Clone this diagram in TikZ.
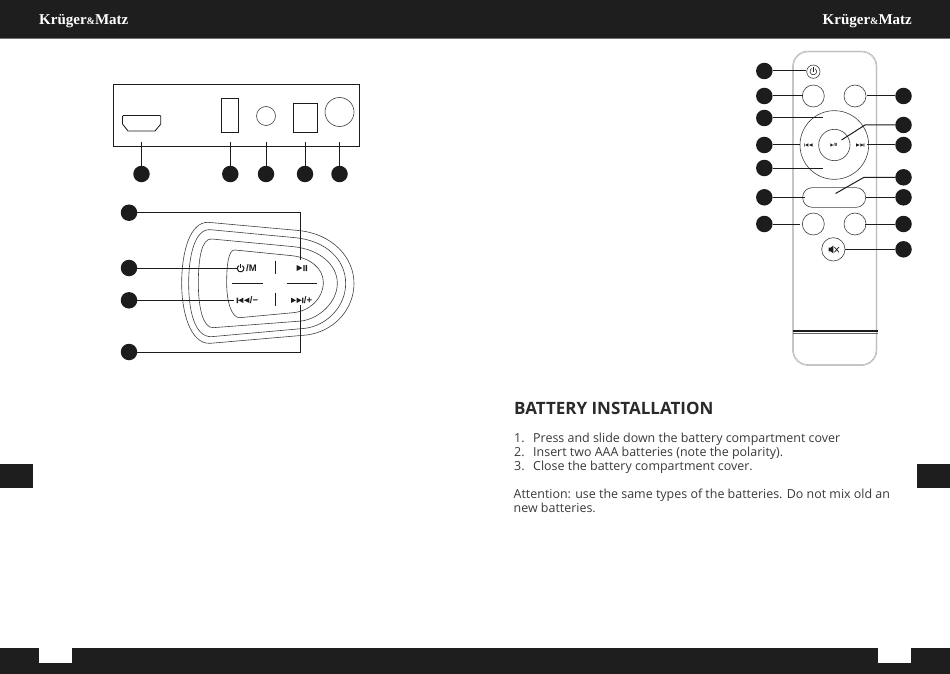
\documentclass[tikz,border=0pt]{standalone}
\usepackage{fontspec}
\setmainfont{Open Sans}
\newfontfamily\logofont{Liberation Serif}
\newfontfamily\keyfont{Liberation Sans}
\definecolor{barcol}{HTML}{1E1E1E}
\definecolor{inkcol}{HTML}{1C1C1C}
\definecolor{textcol}{HTML}{3A3A3A}
\definecolor{headcol}{HTML}{2A2A2A}
\definecolor{shellcol}{HTML}{9A9A9A}
\tikzset{
  dotmark/.style={circle,fill=inkcol,draw=none,minimum size=16.5pt,inner sep=0pt,outer sep=0pt},
  lead/.style={draw=inkcol,line width=1pt},
  part/.style={draw=inkcol,line width=0.85pt},
  thin part/.style={draw=black!75,line width=0.6pt},
  logo/.style={text=white,inner sep=0pt,font=\logofont\bfseries\fontsize{15}{15}\selectfont},
  body/.style={anchor=base west,inner sep=0pt,text=textcol,font=\fontsize{12.45}{14}\selectfont},
  keytext/.style={inner sep=0pt,text=inkcol,font=\keyfont\bfseries\fontsize{9.5}{9.5}\selectfont},
  glyph/.style={fill=inkcol,draw=none},
}
\begin{document}
\begin{tikzpicture}[x=1pt,y=-1pt]
\useasboundingbox (0,0) rectangle (950,674);
\fill[white] (0,0) rectangle (950,674);
% page furniture
\fill[barcol] (0,0) rectangle (950,38);
\fill[black!55] (0,38) rectangle (950,39);
\fill[barcol] (0,648) rectangle (950,674);
\fill[white] (39,648) rectangle (72,662.5);
\fill[white] (878,648) rectangle (911,662.5);
\fill[barcol] (0,464) rectangle (33,488);
\fill[barcol] (917,464) rectangle (950,488);
\node[logo,anchor=base west] (logoL) at (39,25) {Krüger{\fontsize{10}{10}\selectfont\&}Matz};
\node[logo,anchor=base east] (logoR) at (912,25) {Krüger{\fontsize{10}{10}\selectfont\&}Matz};

% rear panel
\draw[part] (113.5,84.5) rectangle (359.5,146.5);
\draw[part] (122.5,116.5) -- (123.5,115.5) -- (160,115.5) -- (160.8,116.5) -- (160.8,124) -- (155,131) -- (128,131) -- (122.5,124) -- cycle;
\draw[part] (221.5,98.5) rectangle (238.5,132);
\draw[thin part] (266,116) circle (9.5);
\draw[part] (293.5,103.5) rectangle (317.5,132);
\draw[thin part] (339.5,112) circle (14.5);
\node[dotmark] (pa) at (141.5,174) {};
\node[dotmark] (pb) at (230.3,174) {};
\node[dotmark] (pc) at (266,174) {};
\node[dotmark] (pd) at (305,174) {};
\node[dotmark] (pe) at (339.5,174) {};
\coordinate (pa1) at (141.5,142.5);
\coordinate (pb1) at (230.3,142.5);
\coordinate (pc1) at (266,142.5);
\coordinate (pd1) at (305,142.5);
\coordinate (pe1) at (339.5,142.5);
\foreach \n in {a,b,c,d,e} \draw[lead] (p\n) -- (p\n1);

% top key panel
\begin{scope}[shift={(110,195)},scale=1/3]
\draw[thin part] (295,82) -- (560,106) .. controls (670,115) and (732,190) .. (732,265) .. controls (732,345) and (670,410) .. (590,420) -- (300,445) .. controls (240,447) and (215,350) .. (215,265) .. controls (215,170) and (240,80) .. (295,82) -- cycle;
\draw[thin part] (300,104) -- (555,128) .. controls (650,137) and (707,195) .. (707,265) .. controls (707,335) and (650,392) .. (585,400) -- (305,425) .. controls (255,427) and (236,350) .. (236,265) .. controls (236,180) and (255,102) .. (300,104) -- cycle;
\draw[thin part] (305,132) -- (550,155) .. controls (630,163) and (682,210) .. (682,265) .. controls (682,320) and (630,370) .. (575,378) -- (310,398) .. controls (280,400) and (265,340) .. (265,265) .. controls (265,190) and (275,130) .. (305,132) -- cycle;
\draw[thin part] (375,165) -- (545,182) .. controls (600,188) and (640,220) .. (640,262) .. controls (640,310) and (600,348) .. (550,353) -- (390,368) .. controls (365,370) and (350,320) .. (350,265) .. controls (350,210) and (355,163) .. (375,165) -- cycle;
\draw[part] (495,197) -- (495,237);
\draw[part] (495,295) -- (495,333);
\draw[part] (367,265) -- (458,265);
\draw[part] (530,265) -- (620,265);
% key glyphs
\draw[inkcol,line width=1pt] (397,212) arc[start angle=-60,end angle=240,radius=10];
\draw[inkcol,line width=1pt] (392,208) -- (392,219);
\node[keytext,anchor=west] (keyM) at (408,218) {/M};
\fill[glyph] (560,210) -- (560,228) -- (577,219) -- cycle (580,210) rectangle (584,228) (587,210) rectangle (591,228);
\fill[glyph] (380,308) rectangle (384,324) (400,308) -- (400,324) -- (385,316) -- cycle (418,308) -- (418,324) -- (402,316) -- cycle;
\node[keytext,anchor=west] (keyMinus) at (419,316) {/−};
\fill[glyph] (543,308) -- (543,324) -- (558,316) -- cycle (560,308) -- (560,324) -- (575,316) -- cycle (576,308) rectangle (580,324);
\node[keytext,anchor=west] (keyPlus) at (581,316) {/+};
\end{scope}
\node[dotmark] (ka) at (129,212.7) {};
\node[dotmark] (kb) at (129,268) {};
\node[dotmark] (kc) at (129,300.3) {};
\node[dotmark] (kd) at (129,352) {};
\coordinate (ka1) at (300,212.7);
\coordinate (ka2) at (300,260);
\coordinate (kb1) at (236.5,268);
\coordinate (kc1) at (234,300.3);
\coordinate (kd1) at (300,352);
\coordinate (kd2) at (300,305);
\draw[lead] (ka) -- (ka1) -- (ka2);
\draw[lead] (kb) -- (kb1);
\draw[lead] (kc) -- (kc1);
\draw[lead] (kd) -- (kd1) -- (kd2);

% remote
\draw[shellcol,line width=1.3pt,rounded corners=15pt] (793,51.5) rectangle (876.5,365);
\draw[white,line width=0.35pt,rounded corners=15pt] (793,51.5) rectangle (876.5,365);
\draw[inkcol,line width=1.2pt] (792.5,331) -- (877.5,331);
\draw[black!60,line width=0.4pt] (792.5,333) -- (877.5,333);
\begin{scope}[shift={(745,45)},scale=1/3]
\draw[thin part] (205,80) circle (20);
\draw[thin part] (205,153) circle (33);
\draw[thin part] (330,153) circle (33);
\draw[thin part] (268,300) circle (103);
\draw[thin part] (268,300) circle (47);
\draw[thin part,rounded corners=9.5pt] (173,428) rectangle (362,487);
\draw[thin part] (205,537) circle (33);
\draw[thin part] (330,537) circle (33);
\draw[thin part] (265,613) circle (35);
\draw[inkcol,line width=0.5pt] (210,71) arc[start angle=-60,end angle=240,radius=10];
\draw[inkcol,line width=0.5pt] (205,67) -- (205,80);
\fill[glyph] (177,295) rectangle (179,305) (190,295) -- (190,305) -- (180,300) -- cycle (203,295) -- (203,305) -- (192,300) -- cycle;
\fill[glyph] (333,295) -- (333,305) -- (344,300) -- cycle (346,295) -- (346,305) -- (356,300) -- cycle (356,295) rectangle (358,305);
\fill[glyph] (256,295) -- (256,305) -- (265,300) -- cycle;
\node[keytext,anchor=west,font=\keyfont\bfseries\fontsize{4.5}{4.5}\selectfont] (keyPP) at (265,300) {/II};
\fill[glyph] (251,608) rectangle (257,619) (257,608) -- (265,602) -- (265,625) -- (257,619) -- cycle;
\draw[inkcol,line width=0.7pt] (268,606) -- (282,622) (268,622) -- (282,606);
\end{scope}
\node[dotmark] (la) at (764.3,71) {};
\node[dotmark] (lb) at (764.3,96) {};
\node[dotmark] (lc) at (764.3,118) {};
\node[dotmark] (ld) at (764.3,145) {};
\node[dotmark] (le) at (764.3,168) {};
\node[dotmark] (lf) at (764.3,197.3) {};
\node[dotmark] (lg) at (764.3,224) {};
\coordinate (la1) at (806,71);
\coordinate (lb1) at (802.5,96);
\coordinate (lc1) at (823,118);
\coordinate (ld1) at (799.5,145);
\coordinate (le1) at (823,168);
\coordinate (lf1) at (805,197.3);
\coordinate (lg1) at (800,224);
\foreach \n in {a,b,c,d,e,f,g} \draw[lead] (l\n) -- (l\n1);
\node[dotmark] (ra) at (903.5,96) {};
\node[dotmark] (rb) at (903.5,125) {};
\node[dotmark] (rc) at (903.5,145) {};
\node[dotmark] (rd) at (903.5,177.3) {};
\node[dotmark] (re) at (903.5,197.3) {};
\node[dotmark] (rf) at (903.5,224) {};
\node[dotmark] (rg) at (903.5,249.3) {};
\coordinate (ra1) at (866.5,96);
\coordinate (rb1) at (865,125);
\coordinate (rb2) at (841.5,140);
\coordinate (rc1) at (866.5,145);
\coordinate (rd1) at (864,177.3);
\coordinate (rd2) at (835.5,193.5);
\coordinate (re1) at (865.5,197.3);
\coordinate (rf1) at (865,224);
\coordinate (rg1) at (844.5,249.3);
\draw[lead] (ra) -- (ra1);
\draw[lead] (rb) -- (rb1) -- (rb2);
\draw[lead] (rc) -- (rc1);
\draw[lead] (rd) -- (rd1) -- (rd2);
\draw[lead] (re) -- (re1);
\draw[lead] (rf) -- (rf1);
\draw[lead] (rg) -- (rg1);

% battery text
\node[anchor=base west,inner sep=0pt,text=headcol,font=\bfseries\fontsize{17}{19}\selectfont] (head) at (514,414.8) {BATTERY INSTALLATION};
\node[body] (n1) at (514,442) {1.};
\node[body] (t1) at (533,442) {Press and slide down the battery compartment cover};
\node[body] (n2) at (514,456) {2.};
\node[body] (t2) at (533,456) {Insert two AAA batteries (note the polarity).};
\node[body] (n3) at (514,470) {3.};
\node[body] (t3) at (533,470) {Close the battery compartment cover.};
\node[body] (a1) at (513.5,498) {Attention: use the same types of the batteries. Do not mix old an};
\node[body] (a2) at (513.5,512) {new batteries.};
\end{tikzpicture}
\end{document}
